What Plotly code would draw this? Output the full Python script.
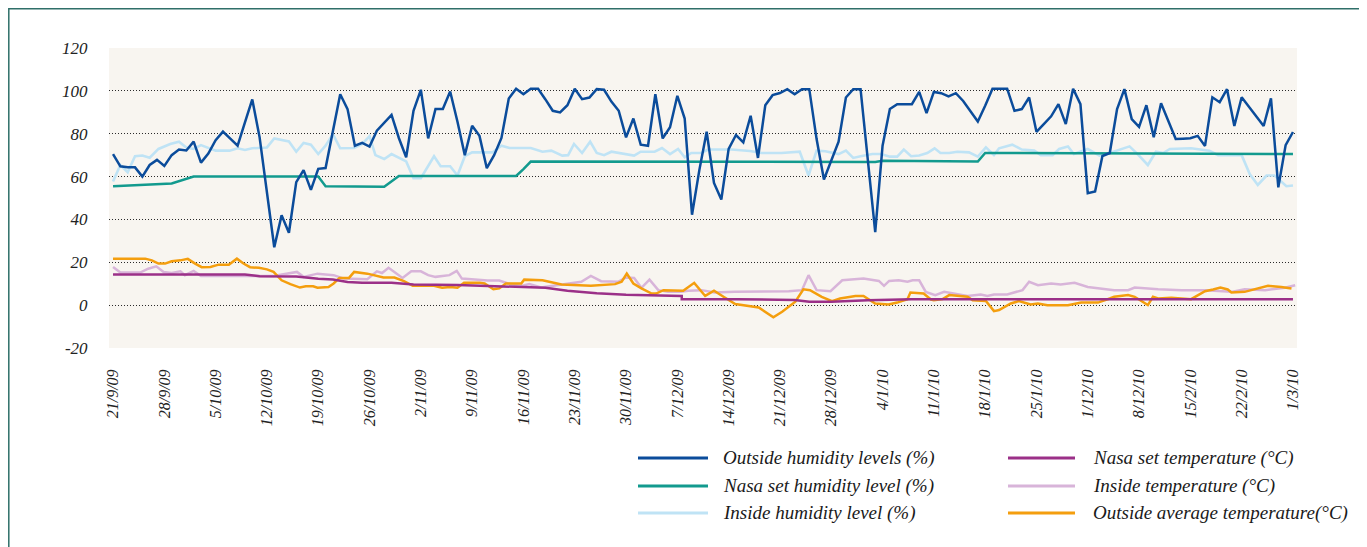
import plotly.graph_objects as go

# ---------------- DATA ----------------
# x values are days since 21/9/09
tick_days = list(range(0, 162, 7))
tick_labels = ["21/9/09", "28/9/09", "5/10/09", "12/10/09", "19/10/09", "26/10/09",
               "2/11/09", "9/11/09", "16/11/09", "23/11/09", "30/11/09", "7/12/09",
               "14/12/09", "21/12/09", "28/12/09", "4/1/10", "11/1/10", "18/1/10",
               "25/1/10", "1/12/10", "8/12/10", "15/2/10", "22/2/10", "1/3/10"]
y_ticks = [-20, 0, 20, 40, 60, 80, 100, 120]

series_names = ["Outside humidity levels (%)", "Nasa set humidity level (%)",
                "Inside humidity level (%)", "Nasa set temperature (°C)",
                "Inside temperature (°C)", "Outside average temperature(°C)"]

out_hum_vals = [70.5, 64.8, 64.3, 64.3, 60, 65.4, 67.8, 65, 70, 72.6,
                72.2, 76.3, 66.5, 70.7, 77, 81, 77.7, 74.4, 85.3, 96,
                78.3, 52, 27, 41.9, 33.8, 57.4, 63, 53.8, 63.6, 64,
                81, 98.4, 91.5, 74.4, 75.7, 74, 81.4, 85.3, 88.8, 78,
                69, 90.7, 100.5, 77.8, 91.5, 91.5, 99.7, 85.6, 70, 83.7,
                79, 63.9, 70, 78, 96.4, 101, 98.4, 101, 101, 96,
                90.7, 89.9, 93.3, 101, 96.1, 96.9, 100.8, 100.5, 95, 90.7,
                78.3, 87.1, 74.9, 74.4, 98.4, 77.8, 83, 97.7, 87.1, 42.2,
                63, 80.9, 57, 49.3, 72.9, 79.4, 76, 88.4, 68.7, 93.3,
                98, 99, 100.8, 98.4, 100.8, 100.8, 77.5, 58.6, 67.4, 76.3,
                96.9, 100.8, 100.8, 68.8, 34.1, 74.4, 91.5, 93.8, 93.8, 93.8,
                99.5, 89.6, 99.5, 98.9, 97.4, 98.9, 95.3, 90.5, 85.7, 93,
                101, 101, 101, 90.7, 91.5, 96.9, 80.9, 84.5, 88.1, 93.8,
                84.5, 101, 93.8, 52.2, 53, 69.6, 71, 91.5, 100.8, 86.8,
                83.2, 93.3, 78.4, 94.2, 86, 77.5, 77.7, 77.9, 79, 74.3,
                97, 94.7, 100.8, 83.6, 97, 92.5, 88, 83.6, 96.5, 55,
                74.7, 80.8]
out_hum_days = list(range(len(out_hum_vals)))

nasa_hum_days = [0, 8, 11, 28, 29, 37, 39, 55, 56, 57, 104, 105, 118, 119, 161]
nasa_hum_vals = [55.5, 56.8, 60, 60, 55.5, 55.3, 60.3, 60.3, 63.5, 67, 66.8, 67.4, 67, 71, 70.5]

in_hum_days = [0, 1, 2, 3, 4, 5, 6.2, 7.8, 9, 10, 11, 12, 14, 15.9, 17, 18, 19, 21, 22, 23,
               24, 25, 26, 27, 28, 29, 30, 31, 32.9, 34, 35, 35.8, 37, 38, 40, 41, 42, 43.8,
               44.7, 46, 47, 48, 49, 50, 51.8, 53, 54.1, 57, 58.6, 59.8, 61.3, 62.1, 62.9,
               64, 65.1, 66, 67, 68, 71.1, 72, 73.9, 74.9, 76, 77.1, 78, 78.9, 80.3, 81.2,
               84.4, 86.9, 88.5, 91.2, 93.7, 94.9, 96, 97.2, 99, 100, 101, 102, 103.6,
               104.8, 106, 107, 107.9, 108.9, 110, 111.1, 112.1, 112.9, 114.1, 115.2, 116.8,
               118, 119.1, 120.2, 120.9, 122.7, 124, 125.7, 126.6, 128.2, 129.1, 130.3,
               131.1, 133, 134.6, 136, 137.5, 138.7, 139.8, 141.2, 142.3, 143.3, 144.2,
               147.1, 149.6, 150.8, 154, 155.1, 156.2, 157.4, 158.5, 160.1, 161]
in_hum_vals = [57.7, 65.4, 62, 69.5, 69.8, 68.8, 72.9, 75.2, 76.3, 73.6, 72.9, 74.7, 72.1, 72.1, 73.2, 72.4, 73.2, 73.6, 77.8, 77.2,
               76.4, 71.6, 75.7, 74.9, 70.5, 74.4, 79.8, 73.2, 73.3, 75.2, 78.8, 70, 68.2, 70.5, 67.1, 59.2, 59.2, 69.5,
               64.8, 64.8, 60.5, 69.5, 71.3, 71.3, 71.3, 74.4, 73.3, 73.3, 71.6, 72.1, 69.8, 70, 75.2,
               71, 76.3, 71, 70, 71.6, 69.8, 71.6, 71.6, 73.3, 70.5, 72.9, 69, 71, 71, 72.6,
               72.6, 71.9, 71, 71, 71.6, 60.5, 72.1, 71.8, 70.5, 72.1, 68.7, 69.5, 70.5,
               70.5, 69.3, 69.3, 72.6, 69.5, 69.8, 71, 73.2, 71, 71, 71.6, 71.3,
               69.3, 73.6, 70, 73.2, 74.9, 72.6, 72.1, 70, 70, 72.9, 74,
               70.5, 72.9, 69.8, 71, 72.9, 74.1, 70.5, 65.4, 71.6, 71, 72.9,
               73.2, 72.1, 70, 70, 61.2, 56.1, 60.5, 60.5, 55.5, 55.8]

nasa_temp_days = [0, 18, 20, 25, 28, 30, 32, 34, 38, 41, 47, 51, 54, 59, 62, 66, 70, 77.6, 77.6,
                  85, 93, 95, 98, 103, 109, 161]
nasa_temp_vals = [14.3, 14.3, 13.5, 13.4, 12.3, 12.0, 10.8, 10.4, 10.5, 9.6, 9.4, 9.0, 8.6, 8.1,
                  6.7, 5.5, 4.8, 4.3, 2.8, 2.8, 2.4, 1.6, 1.6, 2.3, 2.7, 2.7]

in_temp_days = [0, 1, 3.7, 4.8, 5.9, 6.9, 8, 9.2, 9.8, 11, 12, 21.9, 25.1, 26, 27.9, 30.1, 31.5,
                34.7, 36, 36.7, 37.6, 38.6, 39.5, 40.7, 42, 43, 44, 45.9, 46.9, 47.6, 49.8, 51.1,
                52.7, 53.9, 55.7, 56.8, 58.4, 60.2, 62.1, 63.9, 65.2, 66.6, 68.9, 70, 71.1, 72.1,
                73.2, 74.4, 75.7, 77.5, 78.5, 80.3, 82.1, 84.8, 92.2, 94, 94.9, 96, 97.9, 99.5,
                102.4, 104.5, 105.2, 105.9, 107.2, 108.4, 109.1, 110, 110.9, 112.2, 113.4, 115,
                116.6, 118.4, 119.3, 120.2, 122, 124.1, 125, 126.2, 128, 129.3, 131.2, 133,
                136.6, 138.5, 139.4, 142.6, 145.8, 149, 152.6, 154.4, 157.2, 159.9, 161.3]
in_temp_vals = [17.8, 15.2, 15.2, 17, 18.1, 15.5, 15, 15.8, 14, 16, 13.6, 13.6, 15.5, 13.2, 14.7, 14, 12.4,
                12.1, 15.8, 15, 17.4, 14.7, 12.7, 15.8, 15.8, 14, 13.2, 14, 16, 12.4, 11.9, 11.5,
                11.5, 10.1, 9, 9.8, 8.2, 9, 9.8, 10.9, 13.6, 11.2, 10.9, 12.9, 12.7, 8.1,
                11.9, 7, 6.2, 6.2, 6.7, 7, 5.9, 6.2, 6.5, 7, 14, 7, 6.5, 11.6,
                12.4, 11.3, 9, 11.3, 11.6, 10.9, 11.6, 11.6, 6.2, 4.7, 6.2, 5.4,
                4.3, 5, 4.3, 5, 5, 7, 10.9, 9.3, 10.1, 9.6, 10.4, 8.5,
                7, 7, 8.2, 7.4, 7, 7, 6.2, 7.4, 7, 8.1, 9.3]

out_temp_days = [0, 4.4, 5.3, 6.2, 7.1, 8, 9.2, 10.2, 11.2, 12.1, 13.3, 14.4, 15.8, 16.9, 17.8,
                 18.7, 19.9, 21, 21.9, 23, 24.2, 25.5, 26.3, 27.3, 27.9, 29.4, 30.1, 30.9, 32.2,
                 32.9, 34.7, 36.9, 38.4, 39.7, 40.9, 42.2, 43.8, 44.9, 46, 47, 47.9, 50, 50.7,
                 51.9, 52.7, 53.6, 55.7, 56.1, 58.6, 61.2, 65.2, 68.5, 69.4, 70.1, 71, 72.1,
                 73.5, 74.1, 75.1, 77.8, 79.3, 80.8, 82, 83.3, 84.9, 88.1, 90.1, 91.3, 93.1,
                 94.2, 95.1, 96.7, 98.1, 99.2, 101.3, 102.4, 104, 105.8, 107, 108.4, 108.8,
                 110.6, 111.6, 112, 113.2, 114.1, 116.6, 117.3, 119.1, 120.2, 120.9, 122.5,
                 123.6, 125.2, 126.2, 127.5, 130.3, 132.1, 134.4, 136, 136.6, 138.5, 139.4,
                 141.2, 141.9, 142.6, 144.4, 147.1, 149, 150.1, 151.1, 152.1, 152.6, 154.4,
                 156.7, 157.6, 159.4, 160.8]
out_temp_vals = [21.7, 21.7, 20.9, 19.4, 19.4, 20.5, 20.9, 21.6, 19.4, 17.7, 17.8, 18.9, 18.9, 21.7, 19.4,
                 17.7, 17.4, 16.7, 15.5, 11.6, 9.8, 8.2, 8.8, 8.8, 8.1, 8.5, 10.1, 12.7, 12.7,
                 15.5, 14.7, 12.9, 12.9, 11.2, 9, 9, 9, 8.1, 8.5, 8.1, 10.5, 10.5, 10.1,
                 7.4, 7.8, 10.1, 10.1, 11.9, 11.6, 9.6, 9, 9.8, 10.9, 14.7, 10.1, 7.8,
                 5.4, 5.4, 7, 6.7, 10.4, 4.3, 6.7, 3.9, 0.5, -1.1, -5.7, -3.1, 1.6,
                 7.4, 7, 3.9, 1.9, 3.1, 4.3, 4.3, 0.8, 0.3, 1.2, 2.8, 5.9,
                 5.4, 2.6, 2.3, 2.8, 4.7, 3.9, 2.3, 1.9, -2.8, -2.3, 0.8,
                 1.9, 0.3, 0.8, 0, 0, 1.2, 1.2, 3.1, 3.9, 4.7, 3.9,
                 0, 3.9, 3.1, 3.4, 2.8, 6.5, 7.3, 8.2, 7.3, 5.9, 6.2,
                 8.1, 9, 8.5, 7.8]

# ---------------- STYLE ----------------
colors = ["#0b4c9b", "#129a8e", "#bfe3f5", "#9b3088", "#d8b4d9", "#f49e0e"]
FONT = "Liberation Serif"

OFF = 8  # page body margin
W, H = 1367 - OFF, 547 - OFF
PL, PR, PT, PB = 109 - OFF, 1297 - OFF, 48 - OFF, 348 - OFF  # plot area in figure pixels

def px(x):
    return (x - OFF - PL) / (PR - PL)

def py(y):
    return (PB - (y - OFF)) / (PB - PT)

fig = go.Figure()

series = [
    (in_hum_days, in_hum_vals, 2, 2.6),
    (nasa_hum_days, nasa_hum_vals, 1, 2.5),
    (in_temp_days, in_temp_vals, 4, 2.5),
    (out_temp_days, out_temp_vals, 5, 2.5),
    (nasa_temp_days, nasa_temp_vals, 3, 2.5),
    (out_hum_days, out_hum_vals, 0, 2.5),
]
for xs, ys, idx, w in series:
    fig.add_trace(go.Scatter(x=xs, y=ys, mode="lines", name=series_names[idx],
                             line=dict(color=colors[idx], width=w),
                             showlegend=False, hoverinfo="x+y+name"))

shapes = []
annotations = []
# legend (two columns of three) - positions in screen pixels
legend_cols = [(638, 708, 721), (1008, 1075, 1091)]
legend_rows = [458, 486, 513]
for i, name in enumerate(series_names):
    c = i // 3
    r = i % 3
    x0, x1, xt = legend_cols[c]
    yy = legend_rows[r]
    shapes.append(dict(type="line", xref="paper", yref="paper",
                       x0=px(x0), x1=px(x1), y0=py(yy), y1=py(yy),
                       line=dict(color=colors[i], width=3)))
    annotations.append(dict(xref="paper", yref="paper", x=px(xt), y=py(yy),
                            xanchor="left", yanchor="middle", showarrow=False,
                            text="<i>" + name + "</i>",
                            font=dict(family=FONT, size=19, color="#1a1a1a")))

# outer frame
shapes.append(dict(type="rect", xref="paper", yref="paper", layer="above",
                   x0=px(8.8), x1=px(1364), y0=py(560), y1=py(8.8),
                   line=dict(color="#2f6f69", width=1.5), fillcolor="rgba(0,0,0,0)"))

fig.update_layout(
    width=W, height=H,
    margin=dict(l=PL, r=W - PR, t=PT, b=H - PB, pad=0),
    paper_bgcolor="white",
    plot_bgcolor="#f8f5f0",
    showlegend=False,
    shapes=shapes,
    annotations=annotations,
    font=dict(family=FONT, color="#222"),
)

fig.update_xaxes(range=[-0.55, 161.55], tickmode="array", tickvals=tick_days,
                 ticktext=["<i>" + t + "</i>" for t in tick_labels], tickangle=-90,
                 showgrid=False, zeroline=False,
                 showline=False, ticks="outside", ticklen=14, tickcolor="rgba(0,0,0,0)",
                 tickfont=dict(family=FONT, size=16, color="#222"))
fig.update_yaxes(range=[-20, 120], tickmode="array", tickvals=y_ticks,
                 ticktext=["<i>" + str(v) + "</i>" for v in y_ticks],
                 showgrid=True, griddash="1px,2px", gridcolor="#2a2a2a", gridwidth=1,
                 zeroline=False, showline=False, ticks="outside", ticklen=17,
                 tickcolor="rgba(0,0,0,0)",
                 tickfont=dict(family=FONT, size=17, color="#222"))

fig.write_html("out.html")
